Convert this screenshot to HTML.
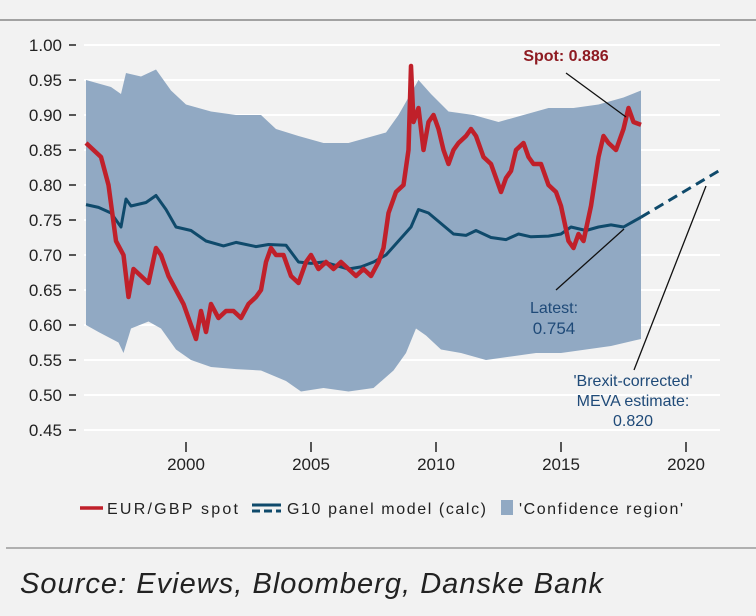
<!DOCTYPE html>
<html><head><meta charset="utf-8"><style>
body{margin:0;background:#fff;font-family:"Liberation Sans",sans-serif}
#wrap{position:relative;width:756px;height:616px;background:#f2f2f2;overflow:hidden}
</style></head><body>
<div id="wrap">
<svg id="chart" width="756" height="616"></svg>
</div>
<script>
const years=[2000,2005,2010,2015,2020];
const yTicks=[1.00,0.95,0.90,0.85,0.80,0.75,0.70,0.65,0.60,0.55,0.50,0.45];
const spotT=[1996.0,1996.3,1996.6,1996.9,1997.2,1997.5,1997.7,1997.9,1998.2,1998.5,1998.8,1999.0,1999.3,1999.6,1999.9,2000.2,2000.4,2000.6,2000.8,2001.0,2001.3,2001.6,2001.9,2002.2,2002.5,2002.8,2003.0,2003.2,2003.4,2003.6,2003.9,2004.2,2004.5,2004.8,2005.0,2005.3,2005.6,2005.9,2006.2,2006.5,2006.8,2007.1,2007.4,2007.7,2007.9,2008.1,2008.4,2008.7,2008.9,2009.0,2009.1,2009.3,2009.5,2009.7,2009.9,2010.1,2010.3,2010.5,2010.7,2010.9,2011.2,2011.4,2011.6,2011.9,2012.2,2012.4,2012.6,2012.8,2013.0,2013.2,2013.5,2013.7,2013.9,2014.2,2014.5,2014.8,2015.0,2015.3,2015.5,2015.7,2015.9,2016.2,2016.5,2016.7,2016.9,2017.2,2017.5,2017.7,2017.9,2018.2];
const spotV=[0.86,0.85,0.84,0.80,0.72,0.70,0.64,0.68,0.67,0.66,0.71,0.70,0.67,0.65,0.63,0.60,0.58,0.62,0.59,0.63,0.61,0.62,0.62,0.61,0.63,0.64,0.65,0.69,0.71,0.70,0.70,0.67,0.66,0.69,0.70,0.68,0.69,0.68,0.69,0.68,0.67,0.68,0.67,0.69,0.71,0.76,0.79,0.80,0.85,0.97,0.89,0.91,0.85,0.89,0.90,0.88,0.85,0.83,0.85,0.86,0.87,0.88,0.87,0.84,0.83,0.81,0.79,0.81,0.82,0.85,0.86,0.84,0.83,0.83,0.80,0.79,0.77,0.72,0.71,0.73,0.72,0.77,0.84,0.87,0.86,0.85,0.88,0.91,0.89,0.886];
const modelT=[1996,1996.5,1997.0,1997.4,1997.6,1997.8,1998.4,1998.8,1999.2,1999.6,2000.2,2000.8,2001.5,2002.0,2002.8,2003.3,2004.0,2004.5,2005.0,2005.5,2006.0,2006.5,2007.0,2007.5,2008.0,2008.5,2009.0,2009.3,2009.7,2010.2,2010.7,2011.2,2011.6,2012.2,2012.8,2013.3,2013.8,2014.5,2015.0,2015.4,2016.0,2016.5,2017.0,2017.5,2018.2];
const modelV=[0.772,0.768,0.76,0.74,0.78,0.77,0.775,0.785,0.765,0.74,0.735,0.72,0.713,0.718,0.712,0.715,0.714,0.69,0.688,0.69,0.685,0.68,0.683,0.69,0.70,0.72,0.74,0.765,0.76,0.745,0.73,0.728,0.735,0.725,0.722,0.73,0.726,0.727,0.73,0.74,0.735,0.74,0.743,0.74,0.754];
const forecastT=[2018.2,2021.3];
const forecastV=[0.754,0.820];
const bandT=[1996,1997.0,1997.4,1997.6,1998.2,1998.8,1999.4,2000,2001,2002,2003,2003.6,2004.5,2005.5,2006.5,2007,2008,2008.5,2009.3,2009.8,2010.5,2011.5,2012.5,2013.5,2014.5,2015.5,2016.5,2017.5,2018.2];
const bandHi=[0.95,0.94,0.93,0.96,0.955,0.965,0.935,0.915,0.905,0.90,0.90,0.88,0.87,0.86,0.86,0.865,0.875,0.90,0.95,0.93,0.905,0.90,0.89,0.90,0.91,0.91,0.915,0.925,0.935];
const bandLoT=[1996,1996.5,1997.3,1997.5,1997.8,1998.5,1999.0,1999.6,2000.2,2001,2002,2003,2004,2004.6,2005.5,2006.5,2007.5,2008.3,2008.8,2009.2,2009.6,2010.2,2011,2012,2013,2014,2015,2016,2017,2018.2];
const bandLo=[0.60,0.59,0.575,0.56,0.595,0.605,0.595,0.565,0.55,0.54,0.537,0.535,0.52,0.505,0.51,0.505,0.51,0.535,0.56,0.595,0.585,0.565,0.56,0.55,0.555,0.56,0.56,0.565,0.57,0.58];

const X=t=>186+(t-2000)*25;
const Y=v=>45+(1-v)*700;
const NS="http://www.w3.org/2000/svg";
const svg=document.getElementById('chart');
function mk(tag,attrs,parent){const e=document.createElementNS(NS,tag);for(const k in attrs)e.setAttribute(k,attrs[k]);(parent||svg).appendChild(e);return e;}
function pts(T,V){return T.map((t,i)=>X(t).toFixed(1)+','+Y(V[i]).toFixed(1)).join(' ');}

let e=mk('line',{x1:0,y1:20,x2:756,y2:20,stroke:'#888','stroke-width':1.5});



yTicks.forEach(v=>{
  let g=mk('line',{x1:84,y1:Y(v),x2:720,y2:Y(v),stroke:'#fff','stroke-width':2});
  
  
  let tk=mk('line',{x1:69,y1:Y(v),x2:76,y2:Y(v),stroke:'#222','stroke-width':1.5});
  
  
  let t=mk('text',{x:62,y:Y(v)+6,'text-anchor':'end','font-size':17,fill:'#222'});
  t.textContent=v.toFixed(2);
  
  
});

let poly=pts(bandT,bandHi)+' '+bandLoT.slice().reverse().map((t,i)=>{const v=bandLo[bandLo.length-1-i];return X(t).toFixed(1)+','+Y(v).toFixed(1);}).join(' ');
let band=mk('polygon',{points:poly,fill:'#91a9c3'});



let m=mk('polyline',{points:pts(modelT,modelV),fill:'none',stroke:'#0f4a6b','stroke-width':3,'stroke-linejoin':'round'});


let f=mk('polyline',{points:pts(forecastT,forecastV),fill:'none',stroke:'#0f4a6b','stroke-width':3,'stroke-dasharray':'10,6'});


let s=mk('polyline',{points:pts(spotT,spotV),fill:'none',stroke:'#c0202a','stroke-width':4.5,'stroke-linejoin':'round'});



years.forEach(y=>{
  let tk=mk('line',{x1:X(y),y1:442,x2:X(y),y2:452,stroke:'#222','stroke-width':1.5});
  
  
  let t=mk('text',{x:X(y),y:470,'text-anchor':'middle','font-size':17,fill:'#222'});
  t.textContent=y;
  
  
});

function txt(x,y,str,fill,name,size,anchor,weight){let t=mk('text',{x:x,y:y,'font-size':size||16,fill:fill,'text-anchor':anchor||'middle','font-weight':weight||'normal'});t.textContent=str;return t;}
function ln(x1,y1,x2,y2,name){let l=mk('line',{x1,y1,x2,y2,stroke:'#111','stroke-width':1.3});}

txt(566,61,'Spot: 0.886','#8e1b22','spot-annotation',16,'middle','bold');
ln(566,73,626,117,'spot-leader');
txt(554,313,'Latest:','#1f4a78','latest-annotation-label',16);
txt(554,334,'0.754','#1f4a78','latest-annotation-value',17);
ln(556,290,624,229,'latest-leader');
txt(633,386,"'Brexit-corrected'",'#1f4a78','meva-annotation-line1',16);
txt(633,406,'MEVA estimate:','#1f4a78','meva-annotation-line2',16);
txt(633,426,'0.820','#1f4a78','meva-annotation-value',16);
ln(634,370,706,186,'meva-leader');

// legend
let l1=mk('line',{x1:80,y1:508,x2:103,y2:508,stroke:'#c0202a','stroke-width':3.5});

let a=txt(107,514,'EUR/GBP spot','#222','legend-spot-label',16,'start');
a.setAttribute('textLength',131);
let l2=mk('line',{x1:252,y1:505,x2:281,y2:505,stroke:'#0f4a6b','stroke-width':3});

let l3=mk('line',{x1:252,y1:511,x2:281,y2:511,stroke:'#0f4a6b','stroke-width':3,'stroke-dasharray':'8,4'});

let b=txt(287,514,'G10 panel model (calc)','#222','legend-model-label',16,'start');
b.setAttribute('textLength',199);
let r=mk('rect',{x:501,y:500,width:12,height:15,fill:'#91a9c3'});

let c=txt(519,514,"'Confidence region'",'#222','legend-band-label',16,'start');
c.setAttribute('textLength',164);

let sep=mk('line',{x1:6,y1:548,x2:756,y2:548,stroke:'#999','stroke-width':1.5});

let src=txt(20,593,'Source: Eviews, Bloomberg, Danske Bank','#222','source-note',29,'start');
src.setAttribute('font-style','italic');
src.setAttribute('textLength',583);
</script>
</body></html>
